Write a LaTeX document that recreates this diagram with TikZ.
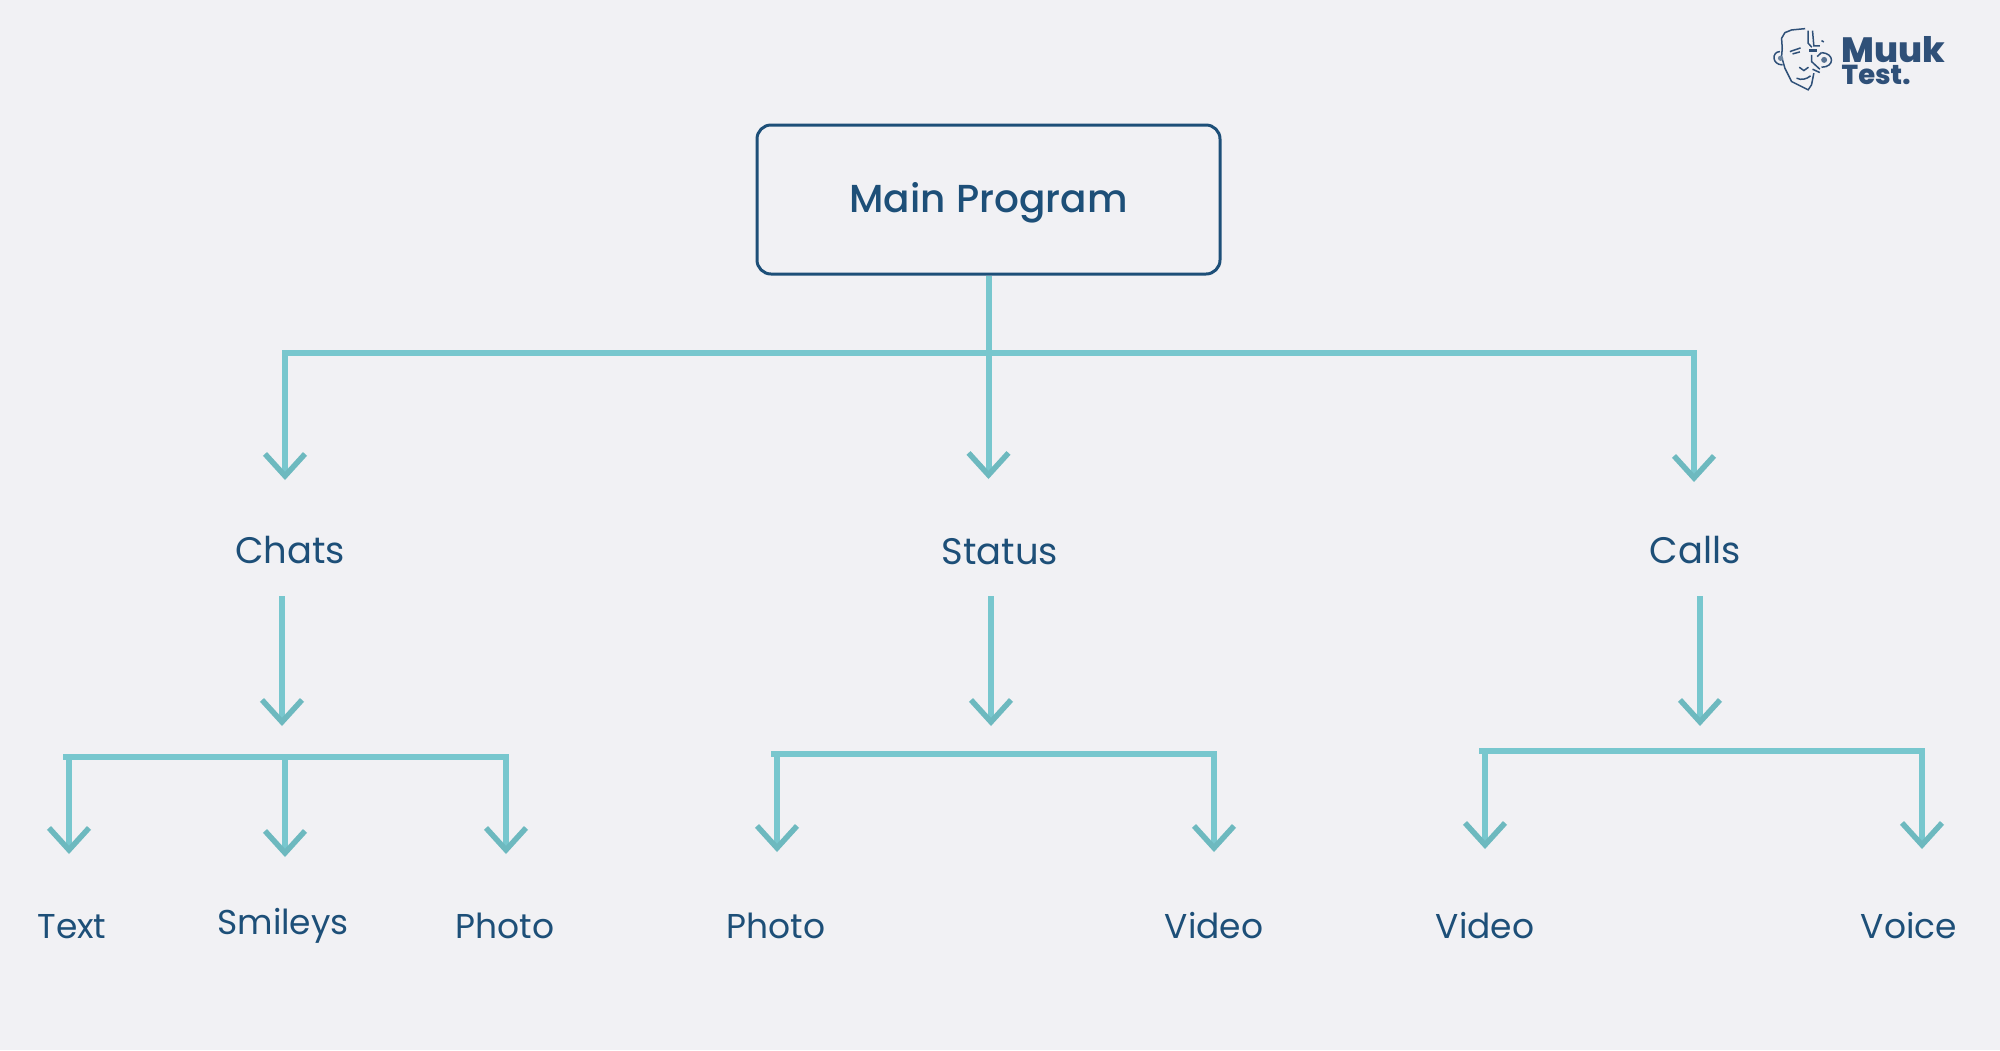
\documentclass[tikz,border=0pt]{standalone}
\usepackage{xcolor}
\usepackage{fontspec}
\setmainfont{Poppins}
\newfontfamily\medfont{Poppins Medium}
\newfontfamily\logofont{Poppins ExtraBold}
\usetikzlibrary{arrows.meta}
\definecolor{bgcol}{HTML}{F1F1F4}
\definecolor{inkcol}{HTML}{1D4F78}
\definecolor{linecol}{HTML}{78C7CE}
\definecolor{tipcol}{HTML}{6DB9BF}
\definecolor{logocol}{HTML}{2F5078}
\begin{document}
\begin{tikzpicture}
\tikzset{
  box/.style={draw=inkcol, line width=.03cm, rounded corners=.14cm, minimum width=4.63cm, minimum height=1.49cm, inner sep=0pt, text=inkcol, text height=8.2pt, text depth=.8pt, font=\medfont\fontsize{11.1}{13}\selectfont},
  lab/.style={text=inkcol, inner sep=0pt, font=\fontsize{10.5}{12}\selectfont},
  sublab/.style={text=inkcol, inner sep=0pt, font=\fontsize{9.8}{11}\selectfont},
  bus/.style={draw=linecol, line width=.06cm},
  sub bus/.style={draw=linecol, line width=.06cm},
  flow/.style={draw=linecol, line width=.06cm, -{Straight Barb[length=.22cm,width=.40cm,line width=.055cm,color=tipcol]}},
  sub flow/.style={draw=linecol, line width=.055cm, -{Straight Barb[length=.22cm,width=.40cm,line width=.055cm,color=tipcol]}},
  face/.style={draw=logocol, line width=.015cm}
};
\fill [bgcol] (0,0) rectangle (20,-10.5);
\node [box] (main) at (9.885,-1.995) {Main Program};
\node [lab] (chats) at (2.90,-5.50) {Chats};
\node [lab] (status) at (10.00,-5.52) {Status};
\node [lab] (calls) at (16.95,-5.50) {Calls};
\node [sublab] (text) at (.72,-9.27) {Text};
\node [sublab] (smileys) at (2.83,-9.26) {Smileys};
\node [sublab] (photoa) at (5.05,-9.26) {Photo};
\node [sublab] (photob) at (7.76,-9.26) {Photo};
\node [sublab] (videoa) at (12.14,-9.26) {Video};
\node [sublab] (videob) at (14.85,-9.26) {Video};
\node [sublab] (voice) at (19.09,-9.26) {Voice};
\coordinate (hub) at (main.south |- 0,-3.53);
\coordinate (topleft) at (2.85,-3.53);
\coordinate (topright) at (16.94,-3.53);
\coordinate (chatstip) at (2.85,-4.80);
\coordinate (statustip) at (main.south |- 0,-4.79);
\coordinate (callstip) at (16.94,-4.82);
\draw [bus, line cap=rect] (topleft) -- (topright);
\draw [bus] (main.south) -- (hub);
\draw [flow] (hub) -- (statustip);
\draw [flow] (topleft) -- (chatstip);
\draw [flow] (topright) -- (callstip);
\coordinate (chatsout) at (2.82,-5.96);
\coordinate (chatsin) at (2.82,-7.26);
\coordinate (statusout) at (9.91,-5.96);
\coordinate (statusin) at (9.91,-7.26);
\coordinate (callsout) at (17.00,-5.96);
\coordinate (callsin) at (17.00,-7.26);
\draw [flow] (chatsout) -- (chatsin);
\draw [flow] (statusout) -- (statusin);
\draw [flow] (callsout) -- (callsin);
\coordinate (chatsbarl) at (.66,-7.57);
\coordinate (chatsbarm) at (2.85,-7.57);
\coordinate (chatsbarr) at (5.06,-7.57);
\coordinate (statusbarl) at (7.74,-7.54);
\coordinate (statusbarr) at (12.14,-7.54);
\coordinate (callsbarl) at (14.82,-7.51);
\coordinate (callsbarr) at (19.22,-7.51);
\draw [sub bus, line cap=rect] (chatsbarl) -- (chatsbarr);
\draw [sub bus, line cap=rect] (statusbarl) -- (statusbarr);
\draw [sub bus, line cap=rect] (callsbarl) -- (callsbarr);
\coordinate (texttip) at (.69,-8.54);
\coordinate (smileystip) at (2.85,-8.57);
\coordinate (photoatip) at (5.06,-8.54);
\coordinate (photobtip) at (7.77,-8.52);
\coordinate (videoatip) at (12.14,-8.52);
\coordinate (videobtip) at (14.85,-8.49);
\coordinate (voicetip) at (19.22,-8.49);
\draw [sub flow] (texttip |- chatsbarl) -- (texttip);
\draw [sub flow] (chatsbarm) -- (smileystip);
\draw [sub flow] (chatsbarr) -- (photoatip);
\draw [sub flow] (photobtip |- statusbarl) -- (photobtip);
\draw [sub flow] (statusbarr) -- (videoatip);
\draw [sub flow] (videobtip |- callsbarl) -- (videobtip);
\draw [sub flow] (callsbarr) -- (voicetip);
\node [text=logocol, inner sep=0pt, anchor=south west, align=left, font=\logofont\fontsize{10}{10}\selectfont] (muuk) at (18.41,-.85) {Muuk\\[-3.9pt]{\fontsize{7.8}{10}\selectfont Test.}};
\begin{scope}[shift={(17.4,-.1)}, x=.00333cm, y=-.00333cm]
\draw [face] (196,56) -- (155,60) -- (135,68) -- (125,85) -- (127,115) -- (125,140) -- (135,175) -- (155,215) -- (205,240) -- (215,225) -- (222,190);
\draw [face] (120,125) .. controls (95,125) and (95,165) .. (128,165);
\fill [logocol!70] (122,145) circle (8);
\draw [face] (245,128) .. controls (285,130) and (285,172) .. (245,172);
\fill [logocol!80] (253,150) circle (9);
\draw [face] (150,125) -- (182,114);
\draw [face] (158,132) -- (180,126);
\draw [face] (170,205) .. controls (185,212) and (200,208) .. (212,198);
\draw [face] (178,172) -- (192,182) -- (206,172);
\draw [face] (205,62) -- (205,100) -- (216,112);
\draw [face] (218,62) -- (222,108) -- (240,108);
\fill [logocol] (207,116) rectangle (232,126);
\draw [face] (215,135) -- (215,155) -- (240,178);
\draw [face] (232,140) -- (245,128);
\draw [face] (218,178) -- (240,188);
\draw [face] (245,92) -- (252,96);
\end{scope}
\end{tikzpicture}
\end{document}
